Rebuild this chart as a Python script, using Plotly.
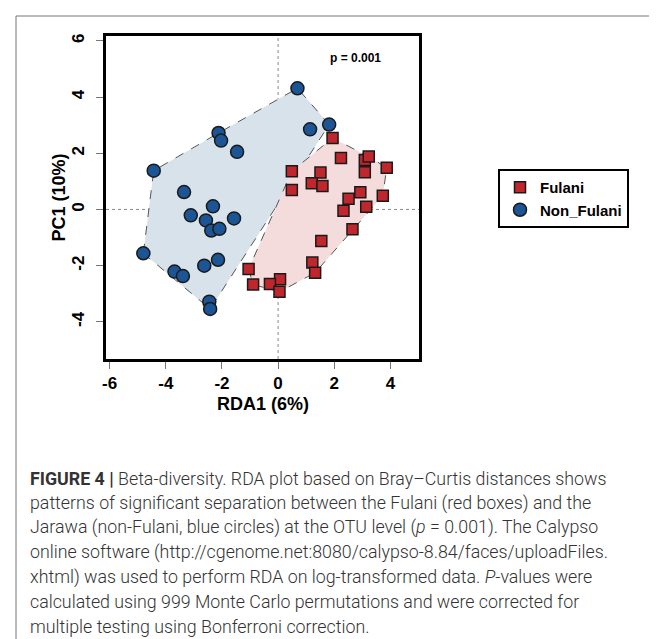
import plotly.graph_objects as go

# ---------------- data ----------------
fulani_x = [1.94, 2.24, 3.09, 3.23, 3.87, 1.51, 0.49, 3.09, 1.20, 1.58, 0.49, 2.93, 2.51,
            3.73, 3.14, 2.33, 2.65, 1.54, 1.22, 1.32, 0.07, -0.29, 0.05, -1.05, -0.89]
fulani_y = [2.54, 1.83, 1.76, 1.88, 1.48, 1.31, 1.36, 1.32, 0.93, 0.83, 0.69, 0.61, 0.38,
            0.49, 0.10, -0.05, -0.70, -1.12, -1.89, -2.25, -2.48, -2.65, -2.93, -2.12, -2.67]

nonfulani_x = [-4.43, -3.35, -2.32, -3.11, -2.57, -1.57, -2.38, -2.09, -4.80, -2.14, -2.63,
               -3.69, -3.39, -2.45, -2.42, -2.12, -2.03, -1.46, 0.69, 1.14, 1.82]
nonfulani_y = [1.38, 0.62, 0.11, -0.21, -0.39, -0.32, -0.75, -0.69, -1.56, -1.79, -2.00,
               -2.21, -2.37, -3.28, -3.54, 2.72, 2.45, 2.05, 4.31, 2.85, 3.02]

x_ticks = [-6, -4, -2, 0, 2, 4]
y_ticks = [-4, -2, 0, 2, 4, 6]

caption_lines = [
    "<b>FIGURE 4 |</b> Beta-diversity. RDA plot based on Bray\u2013Curtis distances shows",
    "patterns of significant separation between the Fulani (red boxes) and the",
    "Jarawa (non-Fulani, blue circles) at the OTU level (<i>p</i> = 0.001). The Calypso",
    "online software (http://cgenome.net:8080/calypso-8.84/faces/uploadFiles.",
    "xhtml) was used to perform RDA on log-transformed data. <i>P</i>-values were",
    "calculated using 999 Monte Carlo permutations and were corrected for",
    "multiple testing using Bonferroni correction.",
]

# ---------------- layout geometry ----------------
W, H = 657, 639
L, R, T, B = 98, 246, 28, 288
PW, PH = W - L - R, H - T - B


def px2x(px):
    return (px - L) / PW


def py2y(py):
    return (H - B - py) / PH


def hull(xs, ys):
    pts = sorted(set(zip(xs, ys)))

    def cross(o, a, b):
        return (a[0] - o[0]) * (b[1] - o[1]) - (a[1] - o[1]) * (b[0] - o[0])

    lower, upper = [], []
    for p in pts:
        while len(lower) >= 2 and cross(lower[-2], lower[-1], p) <= 0:
            lower.pop()
        lower.append(p)
    for p in reversed(pts):
        while len(upper) >= 2 and cross(upper[-2], upper[-1], p) <= 0:
            upper.pop()
        upper.append(p)
    h = lower[:-1] + upper[:-1]
    h.append(h[0])
    return [p[0] for p in h], [p[1] for p in h]


BOLD = "Liberation Sans"
fig = go.Figure()

bhx, bhy = hull(nonfulani_x, nonfulani_y)
rhx, rhy = hull(fulani_x, fulani_y)
fig.add_trace(go.Scatter(x=bhx, y=bhy, mode="lines", fill="toself",
                         fillcolor="#d7e2eb", line=dict(color="#555", width=1, dash="dash"),
                         showlegend=False, hoverinfo="skip"))
fig.add_trace(go.Scatter(x=rhx, y=rhy, mode="lines", fill="toself",
                         fillcolor="#f5dcdc", line=dict(color="#555", width=1, dash="dash"),
                         showlegend=False, hoverinfo="skip"))

fig.add_trace(go.Scatter(x=fulani_x, y=fulani_y, mode="markers", name="Fulani",
                         marker=dict(symbol="square", size=11, color="#c0272d",
                                     line=dict(color="#1a1a1a", width=1.5))))
fig.add_trace(go.Scatter(x=nonfulani_x, y=nonfulani_y, mode="markers", name="Non_Fulani",
                         marker=dict(symbol="circle", size=13, color="#1c5595",
                                     line=dict(color="#1a1a1a", width=1.5))))

# reference lines at zero
fig.add_shape(type="line", xref="x", yref="paper", x0=0, x1=0, y0=0, y1=1,
              line=dict(color="#888", width=1, dash="dot"), layer="below")
fig.add_shape(type="line", xref="paper", yref="y", x0=0, x1=1, y0=0, y1=0,
              line=dict(color="#888", width=1, dash="dot"), layer="below")

# outer frame
fig.add_shape(type="rect", xref="paper", yref="paper",
              x0=px2x(8), x1=px2x(720), y0=py2y(8), y1=py2y(720),
              line=dict(color="#777", width=1))

annotations = [
    dict(text="<b>p = 0.001</b>", x=px2x(375), y=py2y(41), xref="paper", yref="paper",
         showarrow=False, font=dict(family=BOLD, size=12, color="black")),
    dict(text="<b>RDA1 (6%)</b>", x=px2x(255), y=py2y(408), xref="paper", yref="paper",
         showarrow=False, font=dict(family=BOLD, size=18, color="black")),
    dict(text="<b>PC1 (10%)</b>", x=px2x(38), y=py2y(189.5), xref="paper", yref="paper",
         showarrow=False, textangle=-90, font=dict(family=BOLD, size=18, color="black")),
]
for i, line in enumerate(caption_lines):
    annotations.append(dict(text=line, x=px2x(20), y=py2y(470 + i * 24.7),
                            xref="paper", yref="paper", xanchor="left", yanchor="middle",
                            showarrow=False,
                            font=dict(family="Roboto", size=17.8, color="#333", weight=300)))

fig.update_layout(
    width=W, height=H,
    margin=dict(l=L, r=R, t=T, b=B),
    paper_bgcolor="white", plot_bgcolor="white",
    showlegend=True,
    legend=dict(x=px2x(490), y=py2y(161), xanchor="left", yanchor="top",
                bordercolor="black", borderwidth=2, bgcolor="white",
                font=dict(family=BOLD, size=15, color="black", weight="bold"),
                itemwidth=30, tracegroupgap=0),
    annotations=annotations,
)
fig.update_xaxes(range=[-6.13, 5.02], tickvals=x_ticks, ticktext=[str(v) for v in x_ticks],
                 showline=True, mirror=True, linecolor="black", linewidth=3,
                 ticks="outside", ticklen=7, tickcolor="#777", tickwidth=1,
                 showgrid=False, zeroline=False, ticklabelstandoff=0,
                 tickfont=dict(family=BOLD, size=17, color="black", weight="bold"))
fig.update_yaxes(range=[-5.32, 6.17], tickvals=y_ticks, ticktext=[str(v) for v in y_ticks],
                 showline=True, mirror=True, linecolor="black", linewidth=3,
                 ticks="outside", ticklen=7, tickcolor="#777", tickwidth=1,
                 showgrid=False, zeroline=False, tickangle=-90, ticklabelstandoff=5,
                 tickfont=dict(family=BOLD, size=17, color="black", weight="bold"))

fig.write_html("out.html")
